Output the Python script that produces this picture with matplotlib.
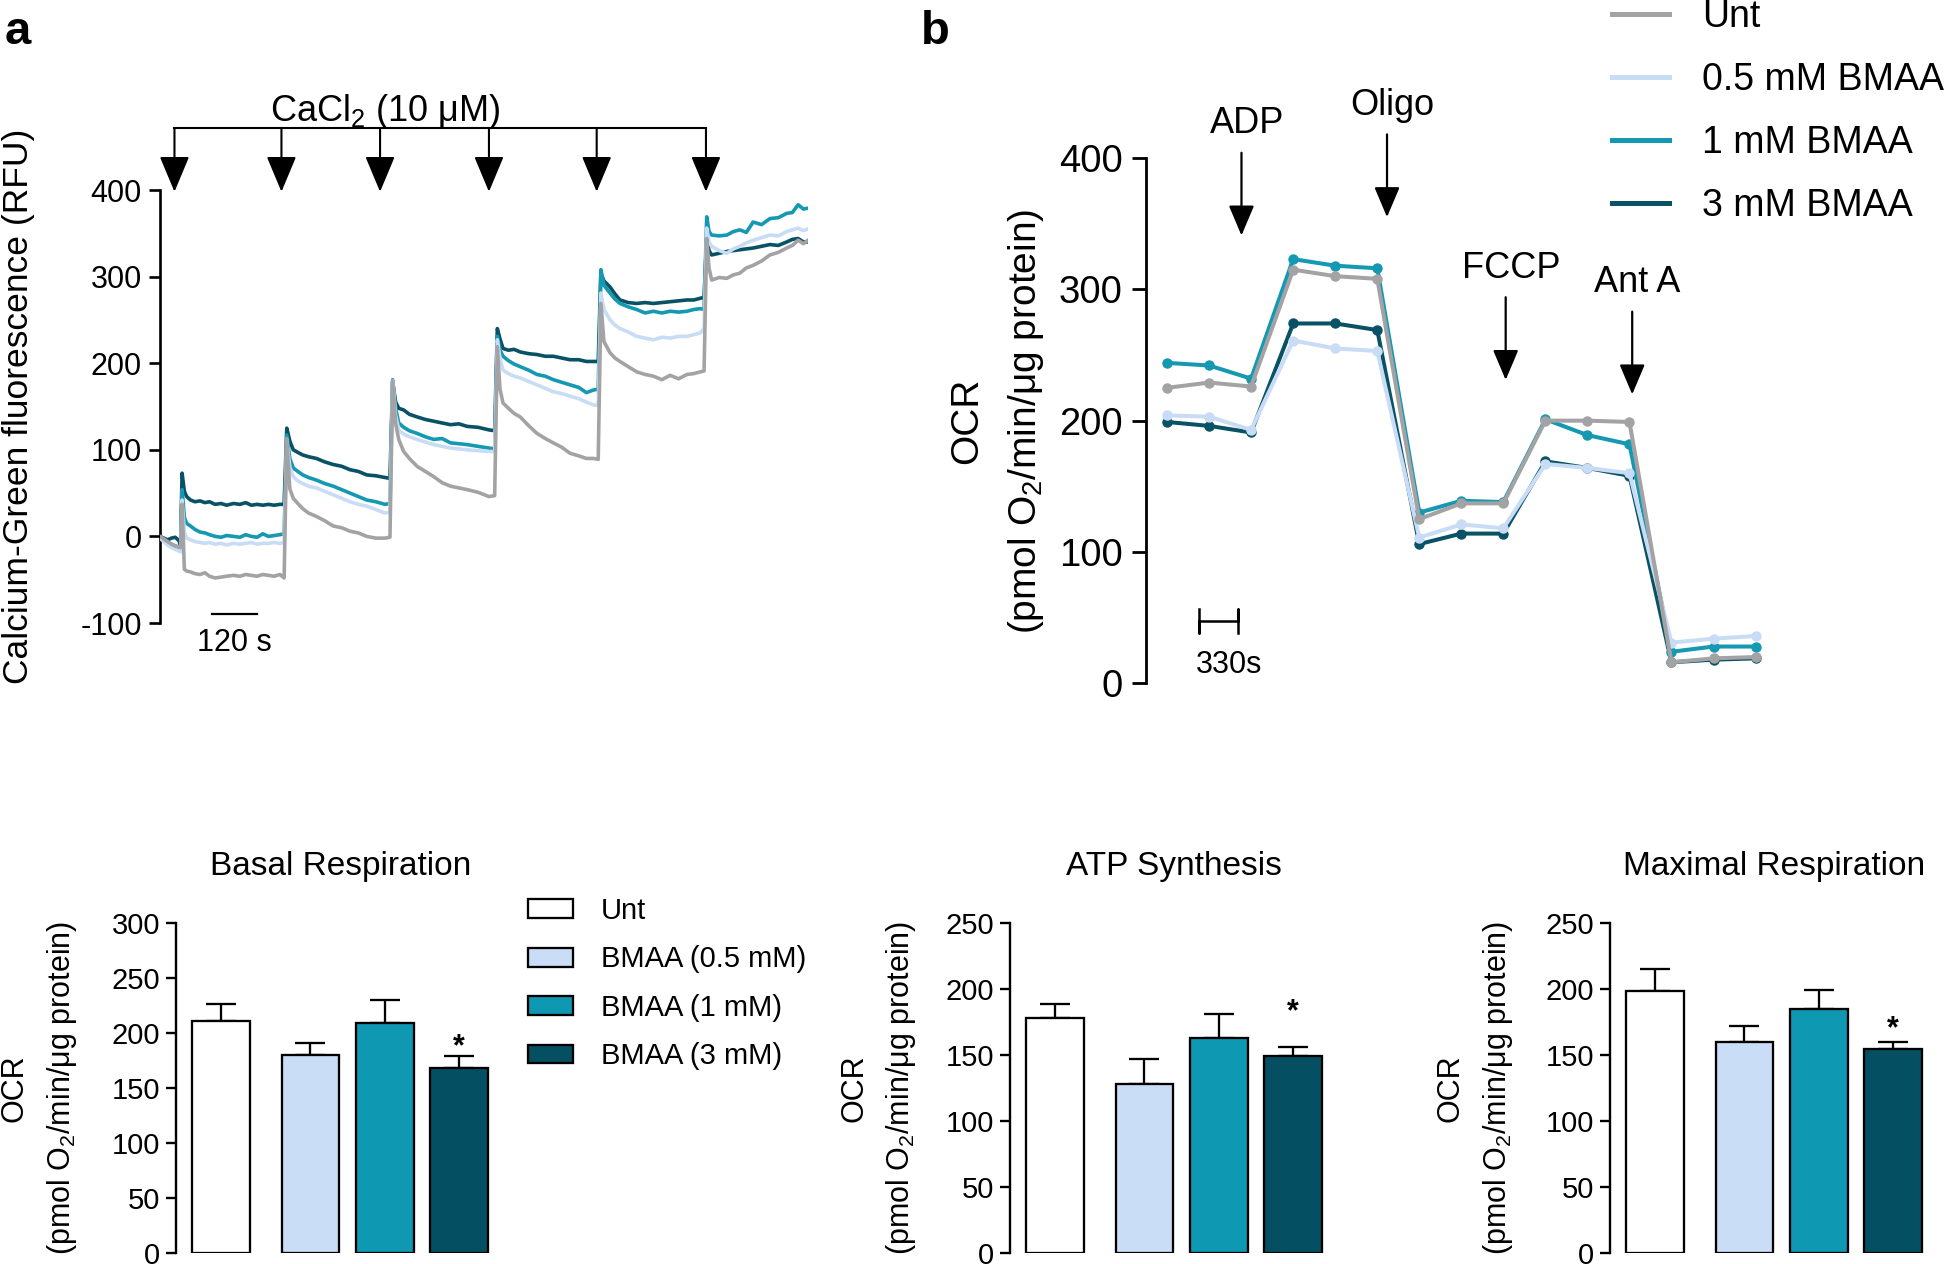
import matplotlib
matplotlib.use("Agg")
import matplotlib.pyplot as plt
from matplotlib.patches import Patch
from matplotlib.lines import Line2D

plt.rcParams['font.family'] = ['Liberation Sans', 'DejaVu Sans']
plt.rcParams['mathtext.fontset'] = 'custom'
plt.rcParams['mathtext.rm'] = 'Liberation Sans'
plt.rcParams['mathtext.it'] = 'Liberation Sans:italic'
plt.rcParams['mathtext.bf'] = 'Liberation Sans:bold'
plt.rcParams['axes.unicode_minus'] = False

# =============================================================================
# data
# =============================================================================
# panel a : calcium green trace (time in s)
t_a = [0, 10, 20, 30, 40, 50, 54,
       58, 64, 70, 80, 92, 105, 118, 130, 145, 160, 175, 193, 210, 225, 240, 255, 270, 285, 300, 315, 326,
       333, 341, 350, 362, 375, 390, 411, 433, 455, 477, 499, 521, 543, 567, 591, 604,
       611, 619, 627, 640, 655, 675, 697, 719, 741, 763, 785, 807, 835, 864, 879,
       886, 893, 901, 915, 930, 946, 968, 990, 1012, 1033, 1055, 1077, 1100, 1120, 1138, 1151,
       1158, 1166, 1182, 1195, 1208, 1230, 1252, 1274, 1296, 1318, 1340, 1362, 1384, 1402, 1419, 1429,
       1436, 1442, 1449, 1469, 1489, 1506, 1523, 1540, 1558, 1580, 1602, 1624, 1646, 1661, 1676, 1690, 1702]
unt_a = [0, -3, -6, -9, -11, -12, -13,
         37, -38, -40, -41, -43, -44, -42, -46, -48, -47, -46, -45, -46, -44, -45, -46, -44, -45, -46, -44, -48,
         113, 55, 44, 38, 32, 27, 23, 18, 12, 10, 6, 4, 0, -2, -2, -1,
         180, 130, 112, 98, 90, 81, 75, 69, 62, 58, 56, 54, 51, 46, 47,
         219, 170, 154, 148, 142, 138, 128, 119, 113, 108, 103, 96, 93, 90, 90, 89,
         269, 225, 212, 206, 202, 196, 190, 187, 185, 181, 186, 182, 187, 188, 190, 191,
         344, 310, 296, 299, 298, 302, 304, 310, 313, 318, 325, 328, 333, 336, 342, 338, 342]
bmaa05_a = [-2, -6, -10, -13, -15, -17, -18,
            42, 5, -2, -4, -6, -7, -8, -7, -9, -8, -10, -8, -9, -8, -7, -9, -8, -8, -7, -8, -7,
            112, 80, 69, 64, 61, 58, 56, 52, 48, 44, 40, 37, 35, 31, 27, 28,
            180, 140, 123, 118, 115, 112, 109, 106, 104, 102, 101, 100, 99, 98, 98,
            227, 205, 192, 188, 185, 183, 179, 175, 171, 167, 165, 162, 159, 155, 152, 151,
            281, 262, 250, 244, 240, 236, 231, 229, 227, 230, 229, 231, 231, 233, 235, 240,
            356, 340, 335, 330, 327, 332, 335, 339, 342, 345, 348, 347, 352, 354, 356, 353, 355]
bmaa1_a = [-1, -4, -7, -9, -11, -13, -14,
           54, 22, 15, 12, 8, 5, 4, 2, 0, -1, 1, 0, -1, 2, 0, -1, 3, 0, 1, 2, 3,
           117, 90, 79, 75, 71, 68, 65, 61, 58, 54, 50, 46, 42, 40, 37, 38,
           181, 148, 131, 126, 122, 119, 115, 112, 113, 108, 107, 106, 104, 102, 101,
           231, 215, 208, 203, 199, 196, 192, 187, 185, 181, 178, 175, 172, 166, 169, 170,
           308, 290, 281, 274, 269, 265, 262, 258, 260, 258, 260, 259, 260, 262, 263, 262,
           369, 352, 348, 347, 348, 352, 354, 351, 363, 360, 367, 368, 373, 374, 383, 378, 379]
bmaa3_a = [0, -2, -4, -2, -1, -5, -12,
           73, 52, 46, 42, 40, 41, 39, 40, 37, 38, 36, 38, 37, 39, 36, 37, 36, 37, 36, 37, 37,
           125, 110, 100, 97, 94, 92, 90, 86, 83, 81, 77, 75, 71, 70, 68, 67,
           178, 155, 148, 146, 141, 138, 135, 133, 131, 129, 130, 127, 126, 123, 122,
           240, 228, 217, 215, 216, 213, 211, 210, 208, 208, 206, 204, 204, 202, 202, 202,
           304, 295, 288, 280, 273, 270, 269, 270, 269, 270, 271, 272, 273, 273, 275, 276,
           346, 330, 325, 327, 329, 330, 331, 332, 333, 335, 337, 336, 340, 343, 344, 340, 340]
cacl2_times = [38, 319, 578, 864, 1147, 1434]

# panel b : OCR trace (time in s)
t_b = [0, 354, 707, 1061, 1414, 1768, 2121, 2475, 2828, 3182, 3535, 3889, 4242, 4596, 4949]
unt_b = [225, 229, 226, 315, 310, 308, 125, 137, 137, 200, 200, 199, 16, 19, 20]
bmaa05_b = [204, 203, 193, 261, 255, 253, 111, 121, 118, 167, 164, 160, 31, 34, 36]
bmaa1_b = [244, 242, 232, 323, 318, 316, 130, 139, 138, 201, 189, 182, 24, 28, 28]
bmaa3_b = [199, 196, 191, 274, 274, 269, 106, 114, 114, 169, 164, 158, 16, 18, 19]
inj_labels = ['ADP', 'Oligo', 'FCCP', 'Ant A']
inj_times = [626, 1850, 2848, 3912]
inj_tip = [341, 355, 231, 220]

# bar panels
groups = ['Unt', 'BMAA (0.5 mM)', 'BMAA (1 mM)', 'BMAA (3 mM)']
basal_mean = [211, 180, 209, 168]
basal_sem = [15, 11, 21, 11]
atp_mean = [177.5, 128, 163, 149]
atp_sem = [11, 18.5, 18, 7]
max_mean = [198, 160, 185, 154]
max_sem = [17, 12, 14, 6]
star_y = [187, 182, 169]
sig = [False, False, False, True]

# =============================================================================
# style
# =============================================================================
C_UNT = '#A3A3A6'
C_05 = '#C8DCF6'
C_1 = '#1598B2'
C_3 = '#095266'
BAR_COLORS = ['white', '#CADDF6', '#0F98B2', '#054F62']

W, H = 1946, 1264
def fx(px):
    return px / W
def fy(py):
    return 1 - py / H
def box(l, t, r, b):
    return [fx(l), fy(b), (r - l) / W, (b - t) / H]

def clean_axis(ax, lw, ticklen, fs, pad):
    for s in ['top', 'right', 'bottom']:
        ax.spines[s].set_visible(False)
    ax.spines['left'].set_linewidth(lw)
    ax.set_xticks([])
    ax.tick_params(axis='y', length=ticklen, width=lw, labelsize=fs, pad=pad)

fig = plt.figure(figsize=(19.46, 12.64), dpi=100)

# =============================================================================
# a
# =============================================================================
ax_a = fig.add_axes(box(160, 190, 808, 623))
ax_a.plot(t_a, bmaa3_a, color=C_3, lw=2.6, zorder=2)
ax_a.plot(t_a, bmaa1_a, color=C_1, lw=2.6, zorder=3)
ax_a.plot(t_a, bmaa05_a, color=C_05, lw=2.6, zorder=4)
ax_a.plot(t_a, unt_a, color=C_UNT, lw=2.6, zorder=5)
ax_a.set_xlim(0, 1702)
ax_a.set_ylim(-100, 400)
ax_a.set_yticks([-100, 0, 100, 200, 300, 400])
clean_axis(ax_a, 1.9, 8, 22, 5)

bracket_y = 471.6
ax_a.plot([cacl2_times[0], cacl2_times[-1]], [bracket_y, bracket_y], color='black', lw=1.5, clip_on=False)
for t in cacl2_times:
    ax_a.annotate('', xy=(t, 398), xytext=(t, bracket_y), annotation_clip=False,
                  arrowprops=dict(arrowstyle='-|>,head_length=0.62,head_width=0.26', mutation_scale=36,
                                  lw=1.5, color='black', shrinkA=0, shrinkB=0))
ax_a.text(591, 480, 'CaCl$_2$ (10 μM)', ha='center', va='baseline', fontsize=26)
ax_a.plot([136, 256], [-89.6, -89.6], color='black', lw=1.6, clip_on=False)
ax_a.text(196, -123, '120 s', ha='center', va='center', fontsize=22)
fig.text(fx(19), fy(406), 'Calcium-Green fluorescence (RFU)', rotation=90,
         ha='center', va='center', fontsize=25.5)

# =============================================================================
# b
# =============================================================================
ax_b = fig.add_axes(box(1146, 158, 1780, 683.3))
kw = dict(lw=2.9, marker='o', ms=6.5)
ax_b.plot(t_b, bmaa3_b, color=C_3, zorder=2, **kw)
ax_b.plot(t_b, bmaa1_b, color=C_1, zorder=3, **kw)
ax_b.plot(t_b, bmaa05_b, color=C_05, zorder=4, **kw)
ax_b.plot(t_b, unt_b, color=C_UNT, zorder=5, **kw)
ax_b.set_xlim(-177, 5155)
ax_b.set_ylim(0, 400)
ax_b.set_yticks([0, 100, 200, 300, 400])
clean_axis(ax_b, 2.0, 10, 27.5, 7)

for lab, t, tip in zip(inj_labels, inj_times, inj_tip):
    ax_b.annotate('', xy=(t, tip), xytext=(t, tip + 63), annotation_clip=False,
                  arrowprops=dict(arrowstyle='-|>,head_length=0.52,head_width=0.22', mutation_scale=36,
                                  lw=1.6, color='black', shrinkA=0, shrinkB=0))
    ax_b.text(t + 45, tip + 78, lab, ha='center', va='baseline', fontsize=26, clip_on=False)

ax_b.plot([269, 269, 269, 599, 599, 599], [56.8, 38.6, 47.7, 47.7, 56.8, 38.6], color='black', lw=1.8)
ax_b.text(521, 14.2, '330s', ha='center', va='center', fontsize=22)

fig.text(fx(967), fy(421), 'OCR', rotation=90, ha='center', va='center', fontsize=28)
fig.text(fx(1026), fy(421), '(pmol O$_2$/min/μg protein)', rotation=90, ha='center', va='center', fontsize=28)

leg_lines = [Line2D([], [], color=c, lw=3.6) for c in [C_UNT, C_05, C_1, C_3]]
ax_b.legend(leg_lines, ['Unt', '0.5 mM BMAA', '1 mM BMAA', '3 mM BMAA'], loc='upper left',
            bbox_to_anchor=(fx(1612), fy(-1)), bbox_transform=fig.transFigure, frameon=False,
            fontsize=27, handlelength=1.52, handletextpad=0.89, labelspacing=0.72,
            borderpad=0, borderaxespad=0)

fig.text(fx(5), fy(44), 'a', fontsize=34, fontweight='bold', va='baseline')
fig.text(fx(921), fy(44), 'b', fontsize=34, fontweight='bold', va='baseline')

# =============================================================================
# bar panels
# =============================================================================
xs = [0, 1.2, 2.2, 3.2]

def bar_panel(left, title, means, sems, ymax, sy, lab_x):
    ax = fig.add_axes(box(left, 922.7, left + 328.4, 1252.7))
    ax.bar(xs, means, width=0.777, color=BAR_COLORS, edgecolor='black', lw=1.65, zorder=3)
    ax.errorbar(xs, means, yerr=[[0] * 4, sems], fmt='none', ecolor='black', elinewidth=1.65,
                capsize=10.8, capthick=1.65, zorder=2)
    for x, s in zip(xs, sig):
        if s:
            ax.text(x, sy, '*', ha='center', va='center', fontsize=22, fontweight='bold')
    ax.set_xlim(-0.61, 3.81)
    ax.set_ylim(0, ymax)
    ax.set_yticks(range(0, ymax + 1, 50))
    clean_axis(ax, 1.7, 7.5, 21, 4)
    ax.set_title(title, fontsize=24, pad=34)
    fig.text(fx(lab_x), fy(1087.7), 'OCR', rotation=90, ha='center', va='center', fontsize=22)
    fig.text(fx(lab_x + 47), fy(1087.7), '(pmol O$_2$/min/μg protein)', rotation=90,
             ha='center', va='center', fontsize=22)
    return ax

ax_c = bar_panel(176, 'Basal Respiration', basal_mean, basal_sem, 300, star_y[0], 15)
bar_panel(1010, 'ATP Synthesis', atp_mean, atp_sem, 250, star_y[1], 854)
bar_panel(1610, 'Maximal Respiration', max_mean, max_sem, 250, star_y[2], 1451)

patches = [Patch(facecolor=c, edgecolor='black', lw=1.65) for c in BAR_COLORS]
ax_c.legend(patches, groups, loc='upper left', bbox_to_anchor=(fx(527.7), fy(897)),
            bbox_transform=fig.transFigure, frameon=False, fontsize=21, handlelength=1.54,
            handleheight=0.62, handletextpad=0.96, labelspacing=0.70, borderpad=0, borderaxespad=0)

fig.savefig('out.png', dpi=100)
